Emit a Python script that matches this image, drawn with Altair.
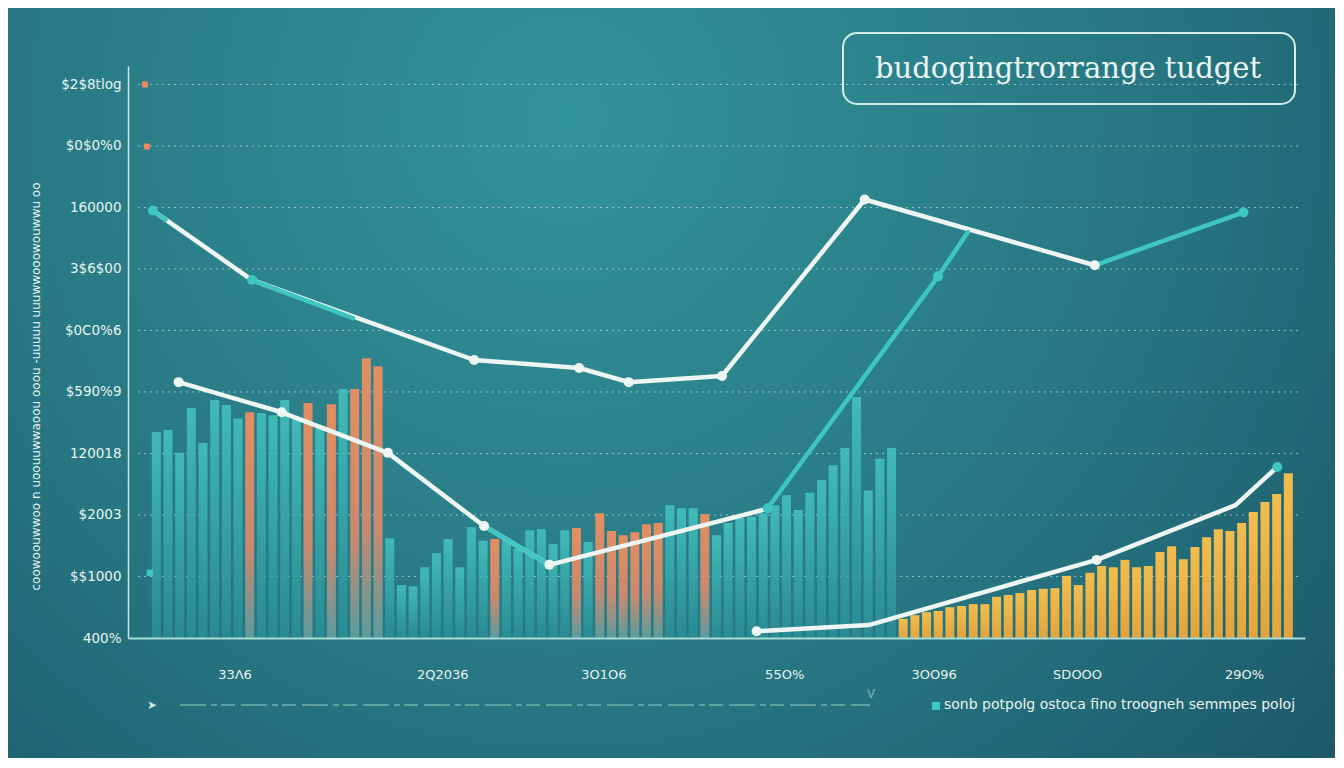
import altair as alt
import pandas as pd

# ---------------- data ----------------
y_tick_labels = ["400%", "$$1000", "$2003", "120018", "$590%9", "$0C0%6",
                 "3$6$00", "160000", "$0$0%0", "$2$8tlog"]
x_tick_positions = [8.7, 26.5, 40.3, 55.8, 68.6, 80.9, 95.2]
x_tick_labels = ["33Λ6", "2Q2036", "3O1O6", "55O%", "3OO96", "SDOOO", "29O%"]

seg_a_values = [3.35, 3.38, 3.01, 3.74, 3.17, 3.87, 3.79, 3.57, 3.67, 3.66,
                3.62, 3.87, 3.57, 3.82, 3.43, 3.80, 4.05, 4.05, 4.55, 4.42]
seg_a_groups = "ttttttttottttototooo"
seg_b_values = [1.62, 0.86, 0.84, 1.15, 1.38, 1.61, 1.15, 1.80, 1.58, 1.61,
                1.62, 1.46, 1.75, 1.77, 1.53, 1.75]
seg_b_groups = "tttttttttotttttt"
seg_c_values = [1.79, 1.56, 2.03, 1.74, 1.67, 1.72, 1.85, 1.87, 2.16, 2.11, 2.11, 2.01]
seg_c_groups = "otoooooottto"
seg_d_values = [1.67, 1.87, 1.95, 1.97, 2.03, 2.16, 2.32, 2.08, 2.36, 2.57,
                2.81, 3.09, 3.92, 2.40, 2.92, 3.09]
seg_d_groups = "t" * 16
seg_e_values = [0.31, 0.37, 0.42, 0.44, 0.50, 0.52, 0.55, 0.55, 0.67, 0.70,
                0.73, 0.78, 0.80, 0.81, 1.01, 0.86, 1.06, 1.17, 1.15, 1.27,
                1.15, 1.17, 1.40, 1.49, 1.28, 1.48, 1.64, 1.77, 1.74, 1.87,
                2.05, 2.21, 2.34, 2.68]
seg_e_groups = "y" * 34
first_slot = 2

upper_x = [1.70, 10.20, 29.23, 38.23, 42.48, 50.47, 62.70, 82.41]
upper_y = [6.95, 5.82, 4.52, 4.39, 4.16, 4.26, 7.13, 6.06]
upper_tail_x = [82.41, 95.16]
upper_tail_y = [6.06, 6.92]
upper_accent_x = [1.70, 2.8]
upper_accent_y = [6.95, 6.80]
upper_accent2_x = [10.20, 18.86]
upper_accent2_y = [5.82, 5.20]
lower_x = [3.91, 12.74, 21.84, 30.08, 35.68, 54.55]
lower_y = [4.16, 3.67, 3.01, 1.82, 1.19, 2.11]
lower_accent_x = [30.08, 35.68]
lower_accent_y = [1.82, 1.19]
rise_x = [54.38, 68.99, 71.54]
rise_y = [2.11, 5.88, 6.60]
bottom_x = [53.44, 63.04, 82.58, 94.48, 98.05]
bottom_y = [0.11, 0.21, 1.27, 2.16, 2.78]

white_dot_x = [29.23, 38.23, 42.48, 50.47, 62.70, 82.41, 3.91, 12.74, 21.84,
               30.08, 35.68, 53.44, 82.58]
white_dot_y = [4.52, 4.39, 4.16, 4.26, 7.13, 6.06, 4.16, 3.67, 3.01,
               1.82, 1.19, 0.11, 1.27]
teal_dot_x = [1.70, 10.20, 95.16, 54.38, 68.99, 98.05]
teal_dot_y = [6.95, 5.82, 6.92, 2.11, 5.88, 2.78]
orange_marker_x = [1.02, 1.19]
orange_marker_y = [9.0, 7.99]
teal_marker_x = [1.44]
teal_marker_y = [1.06]
grid_levels = [1, 2, 3, 4, 5, 6, 7, 8, 9]

title_text = "budogingtrorrange tudget"
legend_text = "sonb potpolg ostoca fino troogneh semmpes poloj"
y_title_text = "coowoouwwoo n uoouuwwaoou ooou -uuuuu uuuwwooowouwwu oo"

# ---------------- tables ----------------
vals = seg_a_values + seg_b_values + seg_c_values + seg_d_values + seg_e_values
grps = seg_a_groups + seg_b_groups + seg_c_groups + seg_d_groups + seg_e_groups
bars = pd.DataFrame({"x": [first_slot + i for i in range(len(vals))],
                     "y": vals, "group": list(grps)})

rows = []
def add_series(name, kind, xs_, ys_):
    for i, (a, b) in enumerate(zip(xs_, ys_)):
        rows.append({"x": a, "y": b, "series": name, "kind": kind, "order": i})

add_series("upper", "main", upper_x, upper_y)
add_series("lower", "main", lower_x, lower_y)
add_series("bottom", "main", bottom_x, bottom_y)
add_series("upper_tail", "accent", upper_tail_x, upper_tail_y)
add_series("upper_acc", "accent", upper_accent_x, upper_accent_y)
add_series("upper_acc2", "accent", upper_accent2_x, upper_accent2_y)
add_series("lower_acc", "accent", lower_accent_x, lower_accent_y)
add_series("rise", "accent", rise_x, rise_y)
lines = pd.DataFrame(rows)

dots = pd.DataFrame({"x": white_dot_x + teal_dot_x,
                     "y": white_dot_y + teal_dot_y,
                     "kind": ["main"] * len(white_dot_x) + ["accent"] * len(teal_dot_x)})
orange_markers = pd.DataFrame({"x": orange_marker_x, "y": orange_marker_y})
teal_markers = pd.DataFrame({"x": teal_marker_x, "y": teal_marker_y})
grid = pd.DataFrame({"y": grid_levels})
one = pd.DataFrame({"a": [0]})

# ---------------- styling ----------------
PLOT_W, PLOT_H = 1177, 572
LIGHT = "#e6f3f2"
FONT = "DejaVu Sans"

xs = alt.Scale(domain=[0, 100], nice=False, zero=False)
ys = alt.Scale(domain=[0, 9.3], nice=False, zero=True)

y_expr = "[" + ",".join("'" + s + "'" for s in y_tick_labels) + "][datum.value]"
x_expr = ("[" + ",".join("'" + s + "'" for s in x_tick_labels) + "][indexof(["
          + ",".join(str(v) for v in x_tick_positions) + "], datum.value)]")

x_axis = alt.Axis(values=x_tick_positions, labelExpr=x_expr, grid=False, ticks=False,
                  domainColor="#a8dcd8", domainWidth=2, labelPadding=30,
                  labelColor=LIGHT, labelFontSize=13, labelFont=FONT, title=None,
                  zindex=1)
y_axis = alt.Axis(values=list(range(10)), labelExpr=y_expr, grid=False, ticks=False,
                  domainColor="#cfe6e6", domainWidth=1.5, labelPadding=7,
                  labelColor=LIGHT, labelFontSize=13.5, labelFont=FONT,
                  title=y_title_text, titleColor=LIGHT, titleFontSize=12,
                  titleFont=FONT, titleFontWeight="normal", titleX=-86, titleY=320,
                  titleAngle=270, zindex=1)

X = alt.X("x:Q", scale=xs, axis=x_axis)
Y = alt.Y("y:Q", scale=ys, axis=y_axis)

bg_grad = {"gradient": "radial", "x1": 0.42, "y1": 0.3, "r1": 0,
           "x2": 0.42, "y2": 0.3, "r2": 0.8,
           "stops": [{"offset": 0, "color": "#33939a"},
                     {"offset": 0.55, "color": "#277782"},
                     {"offset": 1, "color": "#1b5465"}]}
teal_grad = {"gradient": "linear", "x1": 0, "y1": 0, "x2": 0, "y2": 1,
             "stops": [{"offset": 0, "color": "#45c4c0"},
                       {"offset": 1, "color": "#2a8e96"}]}
orange_grad = {"gradient": "linear", "x1": 0, "y1": 0, "x2": 0, "y2": 1,
               "stops": [{"offset": 0, "color": "#f48f5c"},
                         {"offset": 0.6, "color": "#d88a6d"},
                         {"offset": 1, "color": "#5f9f9f"}]}
gold_grad = {"gradient": "linear", "x1": 0, "y1": 0, "x2": 0, "y2": 1,
             "stops": [{"offset": 0, "color": "#f8c04c"},
                       {"offset": 1, "color": "#e5a63c"}]}

background = alt.Chart(one).mark_rect(fill=bg_grad).encode(
    x=alt.value(-120), x2=alt.value(PLOT_W + 30), y=alt.value(-58), y2=alt.value(PLOT_H + 120))

grid_layer = alt.Chart(grid).mark_rule(color="#d8efee", opacity=0.6, strokeWidth=1,
                                       strokeDash=[2, 4]).encode(
    y=alt.Y("y:Q", scale=ys, axis=y_axis), x=alt.value(10), x2=alt.value(PLOT_W - 4))

def bar_layer(code, grad, opacity):
    return alt.Chart(bars).transform_filter(alt.datum.group == code).mark_bar(
        size=9, fill=grad, opacity=opacity).encode(x=X, y=Y)

teal_bars = bar_layer("t", teal_grad, 0.85)
orange_bars = bar_layer("o", orange_grad, 0.92)
gold_bars = bar_layer("y", gold_grad, 0.97)

kind_scale = alt.Scale(domain=["main", "accent"], range=["#eef6f4", "#3ec6bf"])
line_layer = alt.Chart(lines).mark_line(strokeWidth=4.5, strokeCap="round",
                                        strokeJoin="round").encode(
    x=X, y=Y, color=alt.Color("kind:N", scale=kind_scale, legend=None),
    detail="series:N", order="order:Q")
dot_layer = alt.Chart(dots).mark_circle(size=100, opacity=1).encode(
    x=X, y=Y, color=alt.Color("kind:N", scale=kind_scale, legend=None))
orange_marker_layer = alt.Chart(orange_markers).mark_square(
    size=36, opacity=1, color="#ee8a5e").encode(x=X, y=Y)
teal_marker_layer = alt.Chart(teal_markers).mark_square(
    size=40, opacity=1, color="#3ec6bf").encode(x=X, y=Y)

title_box = alt.Chart(one).mark_rect(cornerRadius=14, fill="transparent",
                                     stroke="#d5ecec", strokeWidth=2).encode(
    x=alt.value(715), x2=alt.value(1167), y=alt.value(-33), y2=alt.value(38))
title_mark = alt.Chart(one).mark_text(text=title_text, font="DejaVu Serif", fontSize=29,
                                      color="#eaf5f4", align="center", baseline="middle").encode(
    x=alt.value(940), y=alt.value(3))

squiggle = alt.Chart(one).mark_rule(color="#9fd8d4", strokeWidth=1.5, opacity=0.6,
                                    strokeDash=[26, 5, 6, 4, 14, 6]).encode(
    x=alt.value(52), x2=alt.value(742), y=alt.value(639))
arrow = alt.Chart(one).mark_text(text="➤", fontSize=12, color="#cfe8e6",
                                 align="center", baseline="middle").encode(
    x=alt.value(24), y=alt.value(639))
vee = alt.Chart(one).mark_text(text="V", fontSize=12, color="#a8dcd8", opacity=0.7,
                               align="center", baseline="middle").encode(
    x=alt.value(743), y=alt.value(628))
legend_sq = alt.Chart(one).mark_square(size=64, color="#3ec6bf", opacity=1).encode(
    x=alt.value(808), y=alt.value(640))
legend_txt = alt.Chart(one).mark_text(text=legend_text, font=FONT, fontSize=14,
                                      color=LIGHT, align="left", baseline="middle").encode(
    x=alt.value(816), y=alt.value(639))

chart = alt.layer(
    background, grid_layer, teal_bars, orange_bars, gold_bars, line_layer, dot_layer,
    orange_marker_layer, teal_marker_layer,
    title_box, title_mark, squiggle, arrow, vee, legend_sq, legend_txt
).properties(
    width=PLOT_W, height=PLOT_H,
    autosize=alt.AutoSizeParams(type="none"),
    padding={"left": 120, "top": 58, "right": 30, "bottom": 120},
    background="#1f5d6b",
).configure_view(stroke=None)

chart.save("out.html", embed_options={"renderer": "svg", "actions": False})
